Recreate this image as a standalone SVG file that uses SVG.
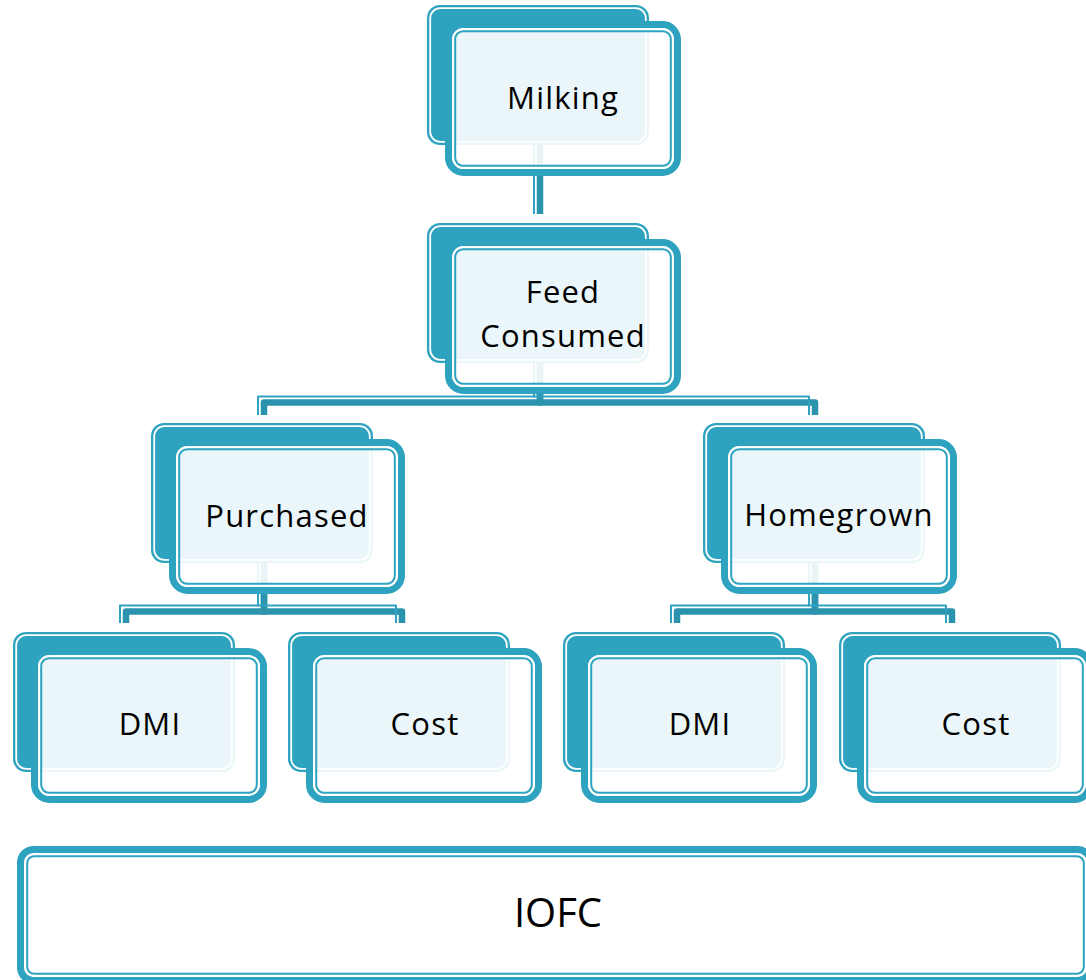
<svg xmlns="http://www.w3.org/2000/svg" xmlns:xlink="http://www.w3.org/1999/xlink" width="1086" height="980" viewBox="0 0 1086 980">
  <style>
    .back { fill: #2EA3BF; }
    .back-line { fill: none; stroke: #ffffff; stroke-width: 1.8; }
    .front { fill: #ffffff; fill-opacity: 0.9; stroke: #2EA3BF; stroke-width: 7; }
    .gap-line { fill: none; stroke: #ffffff; stroke-width: 2; }
    .thin-line { fill: none; stroke: #2EA3BF; stroke-width: 2; }
    .link-thick { fill: none; stroke: #2B93AD; stroke-width: 6.5; stroke-linejoin: round; }
    .link-thin { fill: none; stroke: #2EA3BF; stroke-width: 2; stroke-linejoin: round; }
    .label { font-family: "Open Sans", "Noto Sans", "DejaVu Sans", sans-serif; font-size: 31px; letter-spacing: 1.2px; fill: #000000; text-anchor: middle; }
    .label-big { font-family: "Open Sans", "Noto Sans", "DejaVu Sans", sans-serif; font-size: 40px; fill: #000000; text-anchor: middle; }
  </style>
  <defs>
    <!-- stacked card: solid back plate plus a translucent framed front plate -->
    <g id="card">
      <rect class="back" x="0" y="0" width="222" height="140" rx="13"/>
      <rect class="back-line" x="3.2" y="3.2" width="215.6" height="133.6" rx="10"/>
      <rect class="front" x="21.5" y="19.5" width="229" height="148" rx="15"/>
      <rect class="gap-line" x="26.2" y="24.2" width="219.6" height="138.6" rx="10"/>
      <rect class="thin-line" x="28.2" y="26.2" width="215.6" height="134.6" rx="8"/>
    </g>
  </defs>

  <rect width="1086" height="980" fill="#ffffff"/>

  <!-- connectors: thick line with a thin companion line offset up/left -->
  <g id="connectors">
    <path class="link-thick" d="M540,135 V214"/>
    <path class="link-thin" d="M534,135 V214"/>

    <path class="link-thick" d="M540,353 V402.5 H264 V415"/>
    <path class="link-thin" d="M534,353 V396.5 H258 V415"/>
    <path class="link-thick" d="M540,353 V402.5 H815 V415"/>
    <path class="link-thin" d="M534,353 V396.5 H809 V415"/>

    <path class="link-thick" d="M264,553 V611.5 H126 V623"/>
    <path class="link-thin" d="M258,553 V605.5 H120 V623"/>
    <path class="link-thick" d="M264,553 V611.5 H402 V623"/>
    <path class="link-thin" d="M258,553 V605.5 H396 V623"/>

    <path class="link-thick" d="M815,553 V611.5 H677 V623"/>
    <path class="link-thin" d="M809,553 V605.5 H671 V623"/>
    <path class="link-thick" d="M815,553 V611.5 H952 V623"/>
    <path class="link-thin" d="M809,553 V605.5 H946 V623"/>
  </g>

  <g id="node-milking" transform="translate(427,5)">
    <use xlink:href="#card"/>
    <text class="label" x="136" y="103.5">Milking</text>
  </g>

  <g id="node-feed-consumed" transform="translate(427,223)">
    <use xlink:href="#card"/>
    <text class="label" x="136" y="80">Feed</text>
    <text class="label" x="136" y="124">Consumed</text>
  </g>

  <g id="node-purchased" transform="translate(151,423)">
    <use xlink:href="#card"/>
    <text class="label" x="136" y="103.5">Purchased</text>
  </g>

  <g id="node-homegrown" transform="translate(703,423)">
    <use xlink:href="#card"/>
    <text class="label" x="136" y="102.5">Homegrown</text>
  </g>

  <g id="node-purchased-dmi" transform="translate(13,632)">
    <use xlink:href="#card"/>
    <text class="label" x="137" y="103">DMI</text>
  </g>

  <g id="node-purchased-cost" transform="translate(288,632)">
    <use xlink:href="#card"/>
    <text class="label" x="137" y="103">Cost</text>
  </g>

  <g id="node-homegrown-dmi" transform="translate(563,632)">
    <use xlink:href="#card"/>
    <text class="label" x="137" y="103">DMI</text>
  </g>

  <g id="node-homegrown-cost" transform="translate(839,632)">
    <use xlink:href="#card"/>
    <text class="label" x="137" y="103">Cost</text>
  </g>

  <!-- summary bar along the bottom -->
  <g id="node-iofc">
    <rect class="front" x="20.5" y="849.5" width="1070" height="131" rx="13" fill-opacity="1"/>
    <rect class="gap-line" x="25.2" y="854.2" width="1060.6" height="121.6" rx="9"/>
    <rect class="thin-line" x="27.2" y="856.2" width="1056.6" height="117.6" rx="7"/>
    <text class="label-big" x="558" y="926.5">IOFC</text>
  </g>
</svg>
